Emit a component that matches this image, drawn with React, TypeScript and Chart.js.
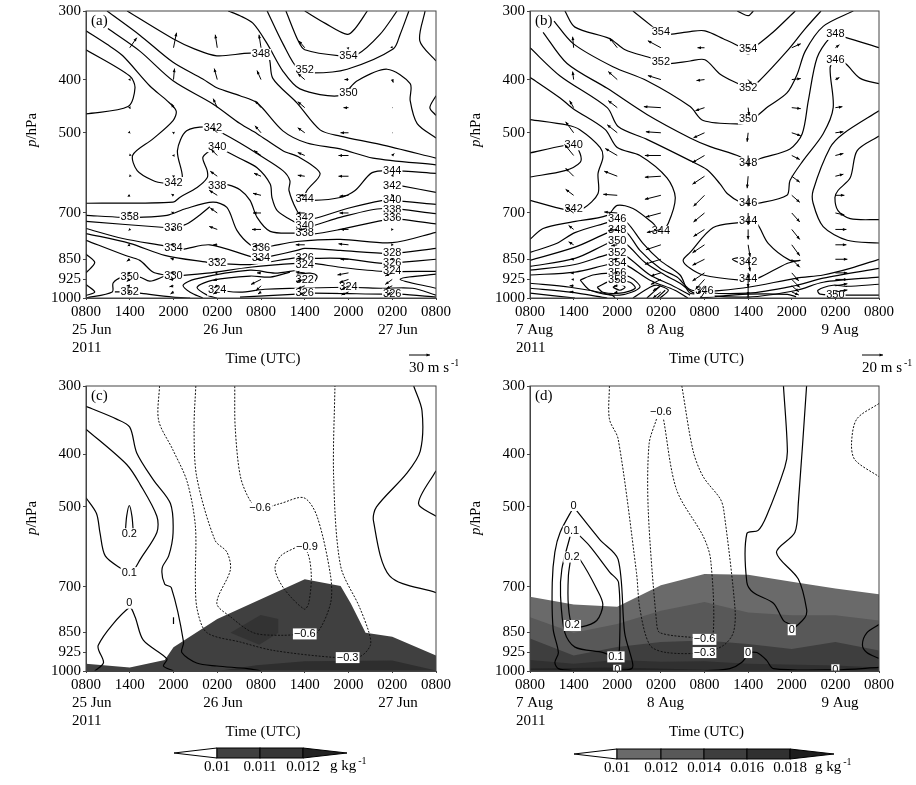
import { useEffect, useRef } from "react";
import { Chart, registerables } from "chart.js";

Chart.register(...registerables);

type Pt = number[];
type Label = [number, number, string];

const hours = ["0800", "1400", "2000", "0200", "0800", "1400", "2000", "0200", "0800"];
const pressureTicks = [300, 400, 500, 700, 850, 925, 1000];
const windLevels = [350, 400, 450, 500, 550, 600, 650, 700, 750, 800, 850, 900, 925, 950, 975];

// panel a: theta-se contours, [time index, hPa]
const contoursA: Pt[][] = [
  [[5, 300], [5.47, 316], [5.97, 331], [6.15, 323], [6.43, 300]],
  [[4.57, 300], [4.85, 340], [5, 353], [5.81, 362], [6.2, 360], [6.72, 331], [7.11, 300]],
  [[4.14, 300], [4.5, 344], [4.85, 383], [5.19, 389], [5.97, 383], [7.02, 352], [7.18, 331], [7.38, 300]],
  [[3.25, 300], [3.52, 306], [3.82, 316], [4.14, 344], [4.5, 386], [4.89, 416], [5.81, 428], [6.2, 402], [6.88, 383], [7.41, 407], [7.41, 437], [7.57, 481], [8, 511]],
  [[8, 428], [7.86, 450], [8, 465]],
  [[7.75, 300], [7.63, 340], [8, 370]],
  [[0.94, 300], [1.99, 337], [2.49, 352], [2.99, 362], [3.75, 358], [4.16, 362], [4.27, 398], [4.82, 441], [5.35, 494], [5.81, 507], [6.72, 525], [8, 556]],
  [[0.48, 300], [1.23, 332], [1.99, 372], [2.67, 399], [2.99, 414], [3.52, 428], [3.91, 441], [4.5, 496], [5.05, 522], [5.81, 535], [6.56, 556], [8, 572]],
  [[0.5, 323], [1.23, 355], [1.99, 402], [2.9, 443], [3.52, 481], [3.91, 502], [4.5, 539], [4.89, 555], [5.35, 593], [5.05, 637], [5, 659], [5.19, 664], [5.81, 656], [6.15, 637], [6.54, 591], [6.99, 586], [8, 593]],
  [[0, 326], [0.48, 345], [0.84, 362], [1.46, 411], [1.85, 437], [2.06, 456], [1.99, 475], [1.53, 513], [1.07, 549], [1.17, 586], [1.53, 611], [1.8, 618], [1.99, 616], [2.2, 604], [2.09, 539], [2.3, 496], [2.83, 488], [3.06, 498], [3.52, 522], [3.98, 550], [4.5, 586], [4.66, 611], [4.64, 637], [4.82, 693], [4.96, 714], [5.19, 717], [5.97, 687], [6.79, 664], [6.99, 664], [8, 675]],
  [[0, 353], [1, 394], [1.12, 414], [0.96, 448], [0, 462]],
  [[0, 672], [1.99, 669], [2.15, 655], [2.54, 629], [2.77, 604], [2.77, 586], [2.67, 555], [2.83, 539], [2.99, 530], [3.18, 539], [3.52, 557], [3.91, 579], [4.21, 620], [4.25, 656], [4.37, 693], [4.78, 728], [4.96, 738], [5.19, 738], [5.81, 713], [6.79, 687], [8, 702]],
  [[3.02, 620], [3.25, 622], [3.52, 635], [3.75, 664], [3.91, 713], [4.21, 756], [4.78, 762], [5, 762], [5.19, 765], [5.81, 750], [6.79, 722], [7.18, 719], [8, 733]],
  [[0, 707], [0.82, 713], [1.19, 713], [1.85, 707], [2.29, 687], [2.9, 669], [3.22, 684], [3.45, 753], [3.75, 800], [3.98, 812], [4.25, 804], [4.82, 789], [5.81, 782], [7, 793], [8, 759]],
  [[0, 725], [1.8, 744], [1.99, 744], [2.29, 734], [2.61, 705], [2.83, 682]],
  [[0, 747], [0.84, 779], [1.8, 804], [1.99, 810], [2.2, 815], [2.83, 800], [3.75, 840], [3.98, 847], [4.21, 840], [4.82, 819], [5, 812], [5.81, 819], [7, 829], [8, 812]],
  [[0, 763], [1, 795], [1.8, 836], [2.77, 861], [2.99, 865], [3.75, 869], [4.82, 844], [5, 847], [5.81, 847], [6.79, 865], [7.18, 861], [8, 850]],
  [[0, 785], [0.89, 836], [1.23, 854], [1.53, 897], [1.8, 908], [1.99, 912], [2.77, 901], [3.75, 879], [4.82, 865], [5.19, 865], [5.81, 879], [6.79, 894], [8, 894]],
  [[0, 832], [0.2, 862], [0, 900]],
  [[0, 945], [0.2, 975], [0, 990]],
  [[0, 1000], [0.6, 975], [0.62, 939], [0.82, 916], [1, 916], [1.23, 916], [1.46, 932], [1.8, 912]],
  [[0.66, 975], [1, 975], [1.23, 980], [1.99, 996], [2.38, 1000]],
  [[2.67, 1000], [2.38, 976], [2.22, 948], [2.49, 924], [3.75, 890], [4.32, 901], [4.82, 890]],
  [[2.99, 1000], [2.77, 988], [2.54, 956], [2.9, 928], [3.75, 912], [4.21, 916], [4.66, 897]],
  [[2.99, 968], [3.52, 976], [4.09, 964], [4.82, 960], [6, 956], [6.79, 960], [7.47, 960], [8, 988]],
  [[3.52, 996], [4.82, 984], [5.19, 980], [6.79, 984], [7.18, 984], [8, 996]],
  [[4.82, 905], [5.12, 901], [5.28, 912], [5.23, 932], [5.07, 944]],
  [[8, 905], [7.18, 924], [8, 960]],
  [[7.18, 624], [8, 642]],
];
const labelsA: Label[] = [
  [4, 360, "348"], [6, 362, "354"], [5, 384, "352"], [6, 424, "350"], [2.9, 490, "342"], [3, 530, "340"],
  [2, 616, "342"], [3, 624, "338"], [1, 713, "358"], [2, 744, "336"], [2, 810, "334"], [3, 865, "332"],
  [2, 912, "330"], [1, 916, "350"], [1, 975, "352"], [3, 968, "324"], [5, 659, "344"], [5, 714, "342"],
  [5, 738, "340"], [5, 762, "338"], [4, 812, "336"], [4, 847, "334"], [5, 847, "326"], [5, 872, "324"],
  [5, 928, "322"], [5, 980, "326"], [6, 956, "324"], [7, 586, "344"], [7, 624, "342"], [7, 664, "340"],
  [7, 690, "338"], [7, 714, "336"], [7, 829, "328"], [7, 865, "326"], [7, 894, "324"], [7, 984, "326"],
];
// wind in m/s per column (0800+1 ... ) and level
const windAU = [
  [10.5, 0.7, 0.7, 0.7, -0.7, -0.7, -3, -1.5, -1.5, -3, -4.5, -3, -4.5, -4.5, -3],
  [4.5, 1.5, -3, -1.5, -1.5, -1.5, -3, -3, -3, -4.5, -4.5, -4.5, -6, -6, -4.5],
  [-3, -4.5, -6, -7.5, -9, -10.5, -12, -10.5, -12, -6, -4.5, -3, -6, -4.5, -6],
  [-3, -6, -9, -9, -10.5, -10.5, -12, -12, -13.5, -12, -7.5, -6, -15, -7.5, -4.5],
  [-9, -10.5, -10.5, -10.5, -10.5, -10.5, -7.5, -12, -9, -13.5, -12, -13.5, -12, -10.5, -7.5],
  [0.7, -6, -7.5, -12, -15, -15, -13.5, -13.5, -12, -15, -12, -16.5, -13.5, -10.5, -10.5],
  [0.7, 1.5, 0.7, 0.7, 3, 1.5, -1.5, -1.5, 1.5, 1.5, -1.5, -10.5, -10.5, -9, -7.5],
];
const windAV = [
  [15, -1.5, -1.5, -0.7, -0.7, -0.7, -1.5, -0.7, -1.5, -1.5, -3, -1.5, -3, 0, -1.5],
  [22.5, 16.5, 6, 0.7, 0, 0.7, 1.5, 1.5, 0.7, 0, 1.5, 0, 0, -1.5, -3],
  [19.5, 16.5, 13.5, 7.5, 9, 7.5, 7.5, 7.5, 4.5, 0, 0, 0, -1.5, -3, -3],
  [19.5, 13.5, 10.5, 10.5, 7.5, 4.5, 3, 0, 0, -3, 0, 0, -7.5, -7.5, -3],
  [10.5, 9, 9, 7.5, 4.5, 1.5, 0, 0, 0, 0, 1.5, 1.5, -3, -4.5, -4.5],
  [0.7, 0, 0, 0, 0, 0, -1.5, 0, 0, 1.5, 0, -3, -4.5, -6, -4.5],
  [-0.7, -4.5, 0, 0, 3, 3, 1.5, 0, 0, 0, 0, -4.5, -7.5, -4.5, -4.5],
];

// panel b
const contoursB: Pt[][] = [
  [[4.75, 300], [5, 306], [5.12, 300]],
  [[2.36, 300], [2.8, 320], [3, 330], [3.21, 331], [3.67, 327], [4.01, 326], [4.43, 337], [4.82, 349], [5, 360], [5.16, 349], [5.57, 328], [6.08, 300]],
  [[0.8, 300], [1.03, 321], [1.83, 337], [2.18, 353], [2.8, 366], [3, 372], [3.21, 374], [3.67, 370], [4.01, 368], [4.36, 391], [4.82, 409], [5, 416], [5.23, 404], [5.89, 355], [6.31, 323], [6.67, 300]],
  [[0.55, 313], [0.99, 344], [1.9, 379], [2.68, 402], [3.67, 448], [3.97, 475], [4.82, 482], [5, 477], [5.23, 464], [5.46, 448], [5.89, 423], [6.12, 392], [6.31, 355], [6.72, 320], [7.41, 300]],
  [[0.3, 328], [0.85, 374], [1.77, 415], [2.68, 463], [3.67, 511], [4.13, 530], [4.82, 553], [5, 570], [5.28, 557], [5.96, 535], [6.24, 502], [6.38, 437], [6.58, 365], [6.88, 335], [7.02, 333], [7.23, 335], [8, 350]],
  [[0, 350], [0.69, 394], [1.77, 450], [2.02, 487], [2.68, 514], [3.67, 562], [4.06, 584], [4.36, 620], [4.52, 645], [4.82, 669], [5, 672], [5.23, 672], [5.89, 650], [5.96, 611], [6.26, 562], [6.72, 502], [6.95, 450], [6.88, 380], [7.02, 368], [7.23, 374], [7.57, 398], [8, 407]],
  [[0, 396], [0.69, 432], [0.99, 452], [1.72, 493], [2, 532], [2.52, 550], [3.14, 604], [3.33, 656], [3.17, 731], [3, 756], [2.82, 731], [2.36, 687], [2, 678], [1.77, 707], [0.92, 728], [0.3, 747], [0, 782]],
  [[0, 473], [0.85, 484], [1.15, 494], [1.61, 532], [1.67, 555], [1.56, 593], [1.56, 645], [1.22, 687], [0.99, 687], [0.8, 690], [0, 664]],
  [[0, 544], [0.76, 528], [1.01, 526], [1.15, 546], [1.15, 566], [0.8, 586], [0, 602]],
  [[5, 725], [5.2, 731], [5.46, 795], [5.96, 854], [6.19, 854], [5.89, 865], [5.23, 920], [5, 924], [4.82, 928], [3.97, 908], [3.67, 883], [3.51, 854], [3.67, 826], [4.2, 744], [4.82, 728], [5, 725]],
  [[4.82, 843], [4.64, 850], [4.82, 865]],
  [[0, 826], [0.62, 795], [1.03, 760], [1.79, 728], [2, 719], [2.22, 728], [2.59, 795], [2.98, 854], [3.44, 908], [3.67, 980], [4.2, 972], [5, 956], [6.12, 920], [6.72, 908], [7.34, 883], [8, 850]],
  [[0, 854], [1.03, 808], [1.79, 760], [2, 753], [2.22, 760], [2.52, 819], [2.98, 883], [3.37, 916], [3.71, 968], [5, 980], [6.12, 948], [6.72, 920], [8, 883]],
  [[0, 876], [1.03, 847], [1.79, 795], [2, 788], [2.22, 799], [2.63, 861], [3.09, 908], [3.44, 940], [3.78, 980], [5, 996], [6.12, 968], [6.72, 936], [8, 916]],
  [[0, 890], [1.03, 869], [1.79, 833], [2, 829], [2.22, 840], [2.75, 908], [3.25, 948], [3.67, 988]],
  [[0, 908], [1.03, 897], [1.79, 869], [2, 865], [2.22, 872], [2.75, 928], [3.32, 968], [3.62, 1000]],
  [[1.15, 928], [1.44, 908], [1.9, 901], [2.29, 916], [2.52, 956], [2.06, 988], [1.38, 968], [1.15, 928]],
  [[1.54, 956], [1.9, 928], [2.29, 936], [2.41, 960], [2.06, 980], [1.67, 976], [1.54, 956]],
  [[1.9, 956], [2.06, 944], [2.18, 956], [2.06, 968], [1.9, 956]],
  [[0, 940], [0.92, 956], [1.88, 988], [1.95, 1000]],
  [[0, 960], [0.92, 976], [1.77, 1000]],
  [[0, 980], [1.03, 1000]],
  [[2.36, 1000], [2.75, 956], [2.91, 948], [3.17, 968], [2.98, 1000]],
  [[2.68, 1000], [2.98, 952]],
  [[2.91, 1000], [3.1, 968]],
  [[3.9, 1000], [5, 984], [5.9, 985], [6.1, 995]],
  [[8, 988], [7.34, 988], [6.65, 984], [6.6, 968], [6.95, 948], [7.27, 952], [8, 944]],
  [[8, 456], [7.18, 502], [6.88, 532], [6.49, 637], [6.49, 672], [6.72, 741], [7.27, 785], [8, 794]],
  [[8, 507], [7.5, 539], [7.34, 604], [7.06, 637], [6.99, 656], [7.06, 693], [7.34, 717], [8, 720]],
];
const labelsB: Label[] = [
  [3, 328, "354"], [3, 372, "352"], [5, 352, "354"], [5, 414, "352"], [5, 472, "350"], [5, 567, "348"],
  [5, 672, "346"], [5, 725, "344"], [5, 860, "342"], [5, 924, "344"], [4, 972, "346"], [7, 988, "350"],
  [7, 331, "348"], [7, 368, "346"], [1, 526, "340"], [1, 687, "342"], [2, 719, "346"], [2, 753, "348"],
  [2, 788, "350"], [2, 829, "352"], [2, 865, "354"], [2, 901, "356"], [2, 928, "358"], [3, 756, "344"],
];
const windBU = [
  [-1, -1, -4, -8, -9, -8, -8, -8, -5, -5, -3, -3, -2, -4, -4],
  [-8, -9, -9, -10, -12, -13, -14, -13, -9, -6, -4, -3, -2, -3, -3],
  [-13, -13, -17, -15, -16, -16, -16, -15, -14, -15, -16, -10, -10, -8, -8],
  [-7, -8, -9, -11, -12, -12, -11, -11, -11, -12, -12, -12, -9, -7, -5],
  [1, 4, 1, -1, 0, -1, 0, 0, 0, 2, 2, 0, 0, 0, 0],
  [9, 9, 9, 9, 8, 8, 8, 8, 8, 8, 8, 7, 8, 7, 7],
  [4, 4, 7, 8, 8, 8, 9, 9, 11, 11, 12, 12, 12, 12, 12],
];
const windBV = [
  [11, 8, 7, 11, 11, 8, 6, 6, 4, 3, 0, 0, 0, 0, 0],
  [10, 8, 7, 8, 7, 5, 1, 1, -1, -1, 0, 0, 0, 0, -1],
  [7, 4, 1, 1, 0, -1, -4, -4, -3, -5, -5, -3, -5, -5, -6],
  [0, -1, -3, -5, -7, -8, -11, -9, -7, -8, -6, -8, -10, -8, -8],
  [-1, -5, -8, -9, -11, -12, -11, -12, -10, -12, -12, -6, -8, -10, -8],
  [4, 1, -1, -3, -4, -6, -7, -9, -10, -11, -8, -8, -8, -6, -3],
  [3, 2, 1, 1, 2, 2, 0, -2, 0, 0, 0, 0, 0, 2, 2],
];

// panel c
const solidC: Pt[][] = [
  [[0, 327], [0.7, 345], [1, 357], [1.16, 398], [1.54, 446], [1.93, 493], [1.99, 558], [1.89, 615], [1.74, 648], [1.8, 693], [1.95, 703], [2.23, 885], [2.19, 925], [2.53, 967], [2.99, 979], [3.69, 990], [4, 1000]],
  [[0.2, 1000], [0.4, 965], [0.28, 897], [0.99, 765], [1.12, 795], [1.31, 878], [1.85, 950], [1.77, 979], [2, 1000]],
  [[0, 360], [0.93, 418], [1.24, 455], [1.62, 520], [1.62, 557], [1.24, 624], [1.08, 655], [0.99, 660], [0.82, 650], [0.44, 615], [0.32, 558], [0.24, 514], [0, 481]],
  [[0.9, 555], [0.93, 520], [0.99, 497], [1.05, 520], [1.08, 555]],
  [[2, 797], [2, 820]],
  [[7.49, 300], [7.68, 333], [7.64, 395], [7.33, 434], [6.64, 500], [6.57, 530], [6.94, 669], [8, 718]],
  [[8, 429], [7.6, 493], [8, 520]],
];
const dottedC: Pt[][] = [
  [[1.68, 300], [1.66, 347], [1.98, 392], [2.31, 449], [2.5, 542], [2.5, 684], [2.54, 770], [2.76, 850], [3.53, 885], [4.29, 917], [5.74, 945], [6.27, 940], [6.5, 897], [6.47, 851], [6.24, 760], [5.82, 642], [5.66, 440], [5.69, 300]],
  [[2.51, 300], [2.47, 357], [2.53, 440], [2.95, 576], [3.22, 605], [3.3, 652], [2.99, 751], [3.3, 795], [3.83, 851], [4.45, 860], [4.99, 855], [5.28, 851], [5.59, 751], [5.59, 669], [5.28, 520], [4.98, 481], [4.44, 493], [3.98, 503], [3.76, 488], [3.53, 440], [3.41, 357], [3.4, 300]],
  [[4.84, 591], [4.45, 615], [4.32, 650], [4.53, 707], [4.99, 770], [5.09, 751], [5.15, 669], [5.06, 606], [4.84, 591]],
];
const labelsC: Label[] = [
  [0.99, 560, "0.2"], [0.99, 660, "0.1"], [0.99, 751, "0"], [3.98, 503, "−0.6"], [5.05, 591, "−0.9"],
  [5, 855, "−0.6"], [5.98, 945, "−0.3"],
];
const shadeC: Pt[][] = [
  [[0, 970], [1, 985], [1.8, 955], [2, 905], [3, 803], [5, 679], [5.82, 698], [6.05, 751], [6.39, 851], [7, 865], [8, 937]],
  [[3, 1000], [3.9, 976], [5, 960], [7, 957], [8, 998]],
];
const shadeColorsC = ["#404040", "#2e2e2e"];
const patchTopC: Pt[] = [[3.3, 851], [3.99, 789], [4.4, 803], [4.4, 851]];
const patchBottomC: Pt[] = [[3.3, 851], [3.96, 895], [4.4, 851]];

// panel d
const solidD: Pt[][] = [
  [[1, 500], [0.69, 557], [0.57, 605], [0.51, 688], [0.53, 837], [0.65, 925], [0.57, 965], [0.65, 990], [1, 998], [2, 998], [2.33, 990], [2.35, 965], [2.17, 851], [2.02, 624], [1.6, 574], [1, 500]],
  [[0.92, 566], [0.73, 650], [0.7, 728], [0.8, 851], [1.03, 904], [1.68, 925], [1.97, 942], [2.05, 911], [2.03, 688], [1.83, 659], [1.37, 590], [1.06, 557]],
  [[0.93, 624], [0.88, 669], [0.88, 760], [0.97, 825], [1.18, 830], [1.53, 808], [1.67, 755], [1.53, 707], [1.15, 625], [1.05, 620]],
  [[5.81, 300], [5.9, 395], [5.84, 423], [5.42, 520], [5.23, 552], [4.97, 560], [4.97, 687], [5.12, 718], [5.58, 751], [5.81, 808], [6, 825], [6, 840], [6.3, 798], [6.34, 770], [6.15, 678], [5.65, 606], [6.07, 557], [6.15, 493], [6.34, 300]],
  [[4, 1000], [4.58, 990], [4.85, 965], [5, 930], [5, 925], [5.2, 925], [5.42, 955], [5.58, 990], [7, 995], [8, 985]],
  [[8, 822], [7.72, 851], [7.62, 895], [7.72, 925], [8, 948]],
];
const dottedD: Pt[][] = [
  [[1.82, 300], [1.82, 345], [2.02, 375], [2.44, 659], [2.52, 770], [2.75, 897], [3.13, 925], [4, 925], [4.44, 897], [4.66, 851], [4.7, 770], [4.44, 506], [4.36, 483], [3.97, 440], [3.74, 395], [3.48, 300]],
  [[2.9, 345], [2.73, 383], [2.71, 506], [2.9, 812], [2.98, 851], [3.97, 872], [4, 875], [4.2, 851], [4.14, 624], [3.97, 566], [3.36, 465], [3.06, 345]],
  [[8, 323], [7.49, 345], [7.37, 383], [7.45, 410], [8, 440]],
];
const labelsD: Label[] = [
  [1, 497, "0"], [0.95, 554, "0.1"], [0.96, 618, "0.2"], [0.97, 825, "0.2"], [1.97, 942, "0.1"], [2, 997, "0"],
  [3, 335, "−0.6"], [4, 875, "−0.6"], [4, 925, "−0.3"], [5, 925, "0"], [6, 840, "0"], [7, 995, "0"],
];
const shadeD: Pt[][] = [
  [[0, 731], [1, 755], [2, 762], [3, 696], [4, 664], [5, 666], [6, 686], [7, 706], [8, 723]],
  [[0, 797], [1, 851], [2, 820], [3, 775], [4, 747], [5, 781], [6, 790], [7, 790], [8, 808]],
  [[0, 872], [1, 937], [2, 904], [3, 885], [4, 879], [5, 892], [6, 911], [7, 885], [8, 917]],
  [[0, 955], [1, 970], [2, 955], [3, 962], [4, 960], [5, 970], [7, 977], [8, 985]],
  [[0, 990], [2, 985], [4, 995], [8, 1000]],
];
const shadeColorsD = ["#6a6a6a", "#585858", "#3e3e3e", "#303030", "#242424"];

const barC = { tip: [174, 347], edges: [217, 260, 303], names: ["0.01", "0.011", "0.012"], fills: ["#404040", "#363636"], end: "#222222", y: 748, unit: 330 };
const barD = { tip: [574, 834], edges: [617, 661, 704, 747, 790], names: ["0.01", "0.012", "0.014", "0.016", "0.018"], fills: ["#6a6a6a", "#585858", "#3e3e3e", "#303030"], end: "#1e1e1e", y: 749, unit: 815 };

const serif = '"Liberation Serif"';

function drawArrow(ctx: CanvasRenderingContext2D, x: number, y: number, dx: number, dy: number) {
  const len = Math.hypot(dx, dy);
  ctx.beginPath();
  ctx.moveTo(x, y);
  ctx.lineTo(x + dx, y + dy);
  ctx.stroke();
  if (len < 0.5) return;
  const ux = dx / len;
  const uy = dy / len;
  const h = Math.max(2, Math.min(3.5, len));
  ctx.beginPath();
  ctx.moveTo(x + dx, y + dy);
  ctx.lineTo(x + dx - ux * h - uy * 1.5, y + dy - uy * h + ux * 1.5);
  ctx.lineTo(x + dx - ux * h + uy * 1.5, y + dy - uy * h - ux * 1.5);
  ctx.closePath();
  ctx.fill();
}

function unitText(ctx: CanvasRenderingContext2D, text: string, x: number, y: number) {
  ctx.font = `15px ${serif}`;
  ctx.textAlign = "left";
  ctx.textBaseline = "middle";
  ctx.fillText(text, x, y);
  const w = ctx.measureText(text).width;
  ctx.font = `10px ${serif}`;
  ctx.fillText("-1", x + w + 2, y - 5);
}

function Panel(props: any) {
  const ref = useRef<HTMLCanvasElement>(null);
  const { box, plot, tag, dates, solid, dotted, labels, shades, shadeColors, patch, wind, scaleText, bar } = props;

  useEffect(() => {
    if (!ref.current) return;
    const lineSet = (pts: Pt[], dashed: boolean) => ({
      data: pts.map((p) => ({ x: p[0], y: p[1] })),
      borderColor: dashed ? "#111111" : "#000000",
      borderWidth: dashed ? 1 : 1.2,
      borderDash: dashed ? [2, 1.5] : [],
      pointRadius: 0,
      tension: 0.3,
      fill: false,
      order: 0,
    });
    const datasets: any[] = [];
    (shades || []).forEach((pts: Pt[], i: number) => {
      datasets.push({
        data: pts.map((p) => ({ x: p[0], y: p[1] })),
        borderWidth: 0,
        pointRadius: 0,
        tension: 0,
        fill: { value: 1000 },
        backgroundColor: shadeColors[i],
        order: 20 - i * 2,
      });
    });
    if (patch) {
      datasets.push({
        data: patch[0].map((p: Pt) => ({ x: p[0], y: p[1] })),
        borderWidth: 0,
        pointRadius: 0,
        tension: 0,
        fill: "+1",
        backgroundColor: "#333333",
        order: 17,
      });
      datasets.push({
        data: patch[1].map((p: Pt) => ({ x: p[0], y: p[1] })),
        borderWidth: 0,
        pointRadius: 0,
        tension: 0,
        fill: false,
        order: 17,
      });
    }
    solid.forEach((pts: Pt[]) => datasets.push(lineSet(pts, false)));
    (dotted || []).forEach((pts: Pt[]) => datasets.push(lineSet(pts, true)));

    const decorate = {
      id: "decorate",
      afterDatasetsDraw(c: any) {
        const { ctx, chartArea: a, scales } = c;
        ctx.save();
        ctx.beginPath();
        ctx.rect(a.left, a.top, a.right - a.left, a.bottom - a.top);
        ctx.clip();
        ctx.font = '11px "Liberation Sans"';
        ctx.textAlign = "center";
        ctx.textBaseline = "middle";
        labels.forEach(([t, p, s]: Label) => {
          const x = scales.x.getPixelForValue(t);
          const y = scales.y.getPixelForValue(p);
          const w = ctx.measureText(s).width;
          ctx.fillStyle = "#ffffff";
          ctx.fillRect(x - w / 2 - 1, y - 5.5, w + 2, 11);
          ctx.fillStyle = "#000000";
          ctx.fillText(s, x, y);
        });
        if (wind) {
          ctx.strokeStyle = "#000000";
          ctx.fillStyle = "#000000";
          ctx.lineWidth = 1;
          wind.u.forEach((col: number[], i: number) => {
            col.forEach((u: number, j: number) => {
              const x = scales.x.getPixelForValue(i + 1);
              const y = scales.y.getPixelForValue(windLevels[j]);
              drawArrow(ctx, x, y, u * wind.k, wind.v[i][j] * -wind.k);
            });
          });
        }
        ctx.restore();
      },
      afterDraw(c: any) {
        const { ctx, chartArea: a, scales } = c;
        ctx.save();
        ctx.strokeStyle = "#444444";
        ctx.lineWidth = 1;
        ctx.strokeRect(a.left, a.top, a.right - a.left, a.bottom - a.top);

        ctx.fillStyle = "#000000";
        ctx.font = `15px ${serif}`;
        ctx.textBaseline = "middle";
        ctx.textAlign = "left";
        ctx.fillText(tag, a.left + 5, a.top + 10);

        dates.forEach(([t, s, y]: [number, string, number]) => {
          ctx.textAlign = "left";
          ctx.fillText(s, scales.x.getPixelForValue(t) - 14, a.bottom + 32 + y * 18.5);
        });

        ctx.textAlign = "center";
        ctx.fillText("Time (UTC)", (a.left + a.right) / 2 + 2, a.bottom + 61);

        // y title with the italic p
        ctx.save();
        ctx.translate(a.left - 54, a.top + plot.titleY);
        ctx.rotate(-Math.PI / 2);
        ctx.textAlign = "left";
        ctx.font = `italic 15px ${serif}`;
        const w1 = ctx.measureText("p").width;
        ctx.font = `15px ${serif}`;
        const w2 = ctx.measureText("/hPa").width;
        ctx.font = `italic 15px ${serif}`;
        ctx.fillText("p", -(w1 + w2) / 2, 0);
        ctx.font = `15px ${serif}`;
        ctx.fillText("/hPa", -(w1 + w2) / 2 + w1, 0);
        ctx.restore();

        if (scaleText) {
          const x0 = a.right - 27 + (box.left ? 10 : 0);
          const y0 = a.bottom + 57;
          ctx.strokeStyle = "#000000";
          drawArrow(ctx, x0, y0, 21, 0);
          unitText(ctx, scaleText, x0, y0 + 13);
        }

        if (bar) {
          const top = bar.y - box.top;
          const h = 10;
          const e = bar.edges.map((v: number) => v - box.left);
          const tips = bar.tip.map((v: number) => v - box.left);
          ctx.fillStyle = "#ffffff";
          ctx.strokeStyle = "#000000";
          ctx.beginPath();
          ctx.moveTo(tips[0], top + h / 2);
          ctx.lineTo(e[0], top);
          ctx.lineTo(e[0], top + h);
          ctx.closePath();
          ctx.fill();
          ctx.stroke();
          bar.fills.forEach((f: string, i: number) => {
            const right = i + 1 < e.length ? e[i + 1] : e[e.length - 1];
            ctx.fillStyle = f;
            ctx.fillRect(e[i], top, right - e[i], h);
            ctx.strokeRect(e[i], top, right - e[i], h);
          });
          ctx.fillStyle = bar.end;
          ctx.beginPath();
          ctx.moveTo(e[e.length - 1], top);
          ctx.lineTo(tips[1], top + h / 2);
          ctx.lineTo(e[e.length - 1], top + h);
          ctx.closePath();
          ctx.fill();
          ctx.stroke();
          ctx.fillStyle = "#000000";
          ctx.font = `15px ${serif}`;
          ctx.textAlign = "center";
          ctx.textBaseline = "middle";
          bar.names.forEach((s: string, i: number) => ctx.fillText(s, e[i], top + 19));
          unitText(ctx, "g kg", bar.unit - box.left, top + 18);
        }
        ctx.restore();
      },
    };

    const chart = new Chart(ref.current, {
      type: "line",
      data: { datasets },
      plugins: [decorate],
      options: {
        animation: false,
        responsive: false,
        devicePixelRatio: 1,
        layout: {
          padding: { left: 0, top: plot.top, right: plot.right, bottom: 0 },
        },
        plugins: { legend: { display: false }, title: { display: false }, tooltip: { enabled: false } },
        scales: {
          x: {
            type: "linear",
            min: 0,
            max: 8,
            afterFit: (s: any) => {
              s.height = plot.bottom;
            },
            ticks: {
              stepSize: 1,
              autoSkip: false,
              maxRotation: 0,
              padding: 3,
              color: "#000000",
              font: { family: "Liberation Serif", size: 15 },
              callback: (v: any) => hours[v],
            },
            border: { color: "#444444" },
            grid: { drawOnChartArea: false, tickLength: 2, color: "#444444" },
          },
          y: {
            type: "logarithmic",
            min: 300,
            max: 1000,
            reverse: true,
            afterFit: (s: any) => {
              s.width = plot.left;
            },
            afterBuildTicks: (s: any) => {
              s.ticks = pressureTicks.map((v) => ({ value: v }));
            },
            ticks: {
              autoSkip: false,
              padding: 2,
              color: "#000000",
              font: { family: "Liberation Serif", size: 15 },
              callback: (v: any) => String(v),
            },
            border: { color: "#444444" },
            grid: { drawOnChartArea: false, tickLength: 3, color: "#444444" },
          },
        },
      } as any,
    });

    return () => {
      chart.destroy();
    };
  }, []);

  return (
    <canvas
      ref={ref}
      width={box.width}
      height={box.height}
      style={{ position: "absolute", left: box.left, top: box.top, width: box.width, height: box.height }}
    />
  );
}

export default function App() {
  return (
    <div style={{ position: "absolute", left: 0, top: 0, width: 916, height: 785, background: "#ffffff", overflow: "hidden" }}>
      <Panel
        box={{ left: 0, top: 0, width: 458, height: 375 }}
        plot={{ left: 86, right: 22, top: 10, bottom: 77, titleY: 119 }}
        tag="(a)"
        dates={[[0, "25 Jun", 0], [0, "2011", 1], [3, "26 Jun", 0], [7, "27 Jun", 0]]}
        solid={contoursA}
        labels={labelsA}
        wind={{ u: windAU, v: windAV, k: 20 / 30 }}
        scaleText="30 m s"
      />
      <Panel
        box={{ left: 458, top: 0, width: 458, height: 375 }}
        plot={{ left: 72, right: 37, top: 10, bottom: 77, titleY: 119 }}
        tag="(b)"
        dates={[[0, "7 Aug", 0], [0, "2011", 1], [3, "8 Aug", 0], [7, "9 Aug", 0]]}
        solid={contoursB}
        labels={labelsB}
        wind={{ u: windBU, v: windBV, k: 1 }}
        scaleText="20 m s"
      />
      <Panel
        box={{ left: 0, top: 375, width: 458, height: 410 }}
        plot={{ left: 86, right: 22, top: 9, bottom: 114, titleY: 132 }}
        tag="(c)"
        dates={[[0, "25 Jun", 0], [0, "2011", 1], [3, "26 Jun", 0], [7, "27 Jun", 0]]}
        solid={solidC}
        dotted={dottedC}
        labels={labelsC}
        shades={shadeC}
        shadeColors={shadeColorsC}
        patch={[patchTopC, patchBottomC]}
        bar={barC}
      />
      <Panel
        box={{ left: 458, top: 375, width: 458, height: 410 }}
        plot={{ left: 72, right: 37, top: 9, bottom: 114, titleY: 132 }}
        tag="(d)"
        dates={[[0, "7 Aug", 0], [0, "2011", 1], [3, "8 Aug", 0], [7, "9 Aug", 0]]}
        solid={solidD}
        dotted={dottedD}
        labels={labelsD}
        shades={shadeD}
        shadeColors={shadeColorsD}
        bar={barD}
      />
    </div>
  );
}
